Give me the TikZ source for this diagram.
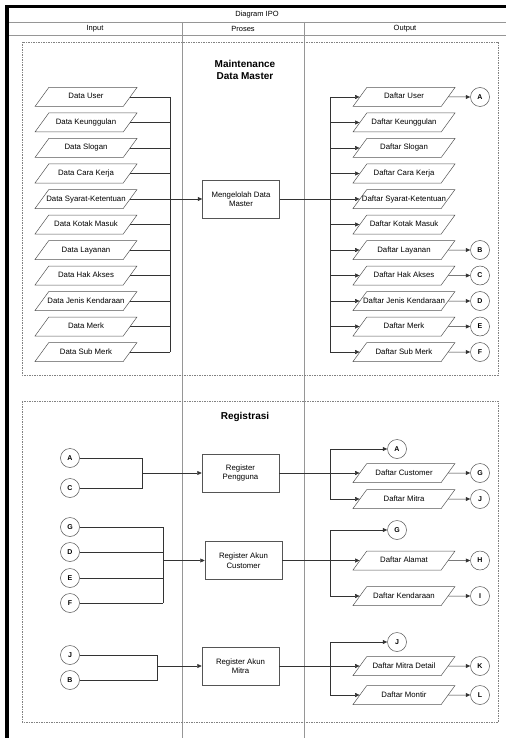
\documentclass[tikz,border=0pt]{standalone}
\usepackage{fontspec}
\setmainfont{Liberation Sans}
\usepackage{tikz}
\usetikzlibrary{arrows.meta,positioning,shapes.geometric,calc}
\usepackage{xcolor}
\definecolor{tablegray}{RGB}{150,150,150}
\definecolor{shapegray}{RGB}{85,85,85}
\definecolor{groupgray}{RGB}{130,130,130}
\newcommand{\dtext}[1]{\makebox[70pt][c]{#1}}

\tikzset{
  databox/.style={trapezium, trapezium left angle=54, trapezium right angle=126,
    trapezium stretches body, draw=shapegray, line width=0.5pt,
    minimum width=102pt, minimum height=19pt, inner xsep=1pt, inner ysep=5.5pt,
    text height=6pt, text depth=2pt,
    font=\fontsize{7.8}{9}\selectfont},
  procbox/.style={rectangle, draw=shapegray, line width=0.5pt, minimum width=77pt,
    minimum height=38pt, align=center, font=\fontsize{7.8}{9.5}\selectfont},
  refnode/.style={circle, draw=shapegray, line width=0.5pt, minimum size=19pt,
    inner sep=0pt, font=\bfseries\fontsize{7}{8}\selectfont},
  link/.style={draw=black!80, line width=0.5pt},
  arr/.style={link, -{Triangle[length=4.5pt,width=4pt]}},
  grouptitle/.style={align=center, font=\bfseries\fontsize{10}{12}\selectfont},
  headtext/.style={font=\fontsize{7.5}{9}\selectfont},
}

\begin{document}
\begin{tikzpicture}[x=1pt, y=-1pt]
  \useasboundingbox (0,0) rectangle (506,738);

  % table frame
  \draw[tablegray, line width=0.6pt] (7,22) -- (506,22);
  \draw[tablegray, line width=0.6pt] (7,35) -- (506,35);
  \draw[tablegray, line width=0.6pt] (182,22) -- (182,738);
  \draw[tablegray, line width=0.6pt] (304,22) -- (304,738);
  \draw[line width=3.8pt] (7,738) -- (7,6.5) -- (506,6.5);
  \node[headtext] (ttlipo) at (257,15) {Diagram IPO};
  \node[headtext] (hdinput) at (95,29) {Input};
  \node[headtext] (hdproses) at (243,29) {Proses};
  \node[headtext] (hdoutput) at (405,29) {Output};

  % groups
  \draw[groupgray, line width=0.5pt, dash pattern=on 1.5pt off 1pt] (22,42) rectangle (498,375);
  \draw[groupgray, line width=0.5pt, dash pattern=on 1.5pt off 1pt] (22,401) rectangle (498,722);
  \node[grouptitle] (ttlmaster) at (245,70) {Maintenance\\Data Master};
  \node[grouptitle] (ttlreg) at (245,417) {Registrasi};

  % ---- Maintenance Data Master ----
  \foreach \lbl [count=\i] in {User, Keunggulan, Slogan, Cara Kerja, Syarat-Ketentuan,
      Kotak Masuk, Layanan, Hak Akses, Jenis Kendaraan, Merk, Sub Merk} {
    \node[databox] (in\i) at (86,{97+25.5*(\i-1)}) {\dtext{Data \lbl}};
    \node[databox] (out\i) at (404,{97+25.5*(\i-1)}) {\dtext{Daftar \lbl}};
  }
  \node[procbox] (kelola) at (241,199) {Mengelolah Data\\Master};
  \coordinate (inbus) at (170,0);
  \coordinate (outbus) at (330,0);
  \foreach \i in {1,...,11} {
    \draw[link] (in\i.east) -- (in\i.east -| inbus);
    \draw[arr] (out\i.west -| outbus) -- (out\i.west);
  }
  \draw[link] (in1.east -| inbus) -- (in11.east -| inbus);
  \draw[arr] (kelola.west -| inbus) -- (kelola.west);
  \draw[link] (kelola.east) -- (kelola.east -| outbus);
  \draw[link] (out1.west -| outbus) -- (out11.west -| outbus);
  \foreach \i/\c in {1/A, 7/B, 8/C, 9/D, 10/E, 11/F} {
    \node[refnode] (m\c) at (480,{97+25.5*(\i-1)}) {\c};
    \draw[arr] (out\i.east) -- (m\c);
  }

  % ---- Registrasi: pengguna ----
  \node[refnode] (rA) at (70,458) {A};
  \node[refnode] (rC) at (70,488) {C};
  \node[procbox] (reguser) at (240.5,473) {Register\\Pengguna};
  \coordinate (joinuser) at (142,0);
  \draw[link] (rA) -- (rA -| joinuser) -- (rC -| joinuser) -- (rC);
  \draw[arr] (reguser.west -| joinuser) -- (reguser.west);

  \node[refnode] (oA) at (397,449) {A};
  \node[databox] (cust) at (404,473) {\dtext{Daftar Customer}};
  \node[databox] (mitra) at (404,499) {\dtext{Daftar Mitra}};
  \node[refnode] (oG) at (480,473) {G};
  \node[refnode] (oJ) at (480,499) {J};
  \draw[link] (reguser.east) -- (reguser.east -| outbus);
  \draw[link] (oA -| outbus) -- (mitra.west -| outbus);
  \draw[arr] (oA -| outbus) -- (oA);
  \draw[arr] (cust.west -| outbus) -- (cust.west);
  \draw[arr] (mitra.west -| outbus) -- (mitra.west);
  \draw[arr] (cust.east) -- (oG);
  \draw[arr] (mitra.east) -- (oJ);

  % ---- Registrasi: akun customer ----
  \node[refnode] (rG) at (70,527) {G};
  \node[refnode] (rD) at (70,552) {D};
  \node[refnode] (rE) at (70,578) {E};
  \node[refnode] (rF) at (70,603) {F};
  \node[procbox] (regcust) at (243.5,560.5) {Register Akun\\Customer};
  \coordinate (joincust) at (163,0);
  \foreach \c in {G,D,E,F}
    \draw[link] (r\c) -- (r\c -| joincust);
  \draw[link] (rG -| joincust) -- (rF -| joincust);
  \draw[arr] (regcust.west -| joincust) -- (regcust.west);

  \node[refnode] (oG2) at (397,530) {G};
  \node[databox] (alamat) at (404,560.5) {\dtext{Daftar Alamat}};
  \node[databox] (kendaraan) at (404,596) {\dtext{Daftar Kendaraan}};
  \node[refnode] (oH) at (480,560.5) {H};
  \node[refnode] (oI) at (480,596) {I};
  \draw[link] (regcust.east) -- (regcust.east -| outbus);
  \draw[link] (oG2 -| outbus) -- (kendaraan.west -| outbus);
  \draw[arr] (oG2 -| outbus) -- (oG2);
  \draw[arr] (alamat.west -| outbus) -- (alamat.west);
  \draw[arr] (kendaraan.west -| outbus) -- (kendaraan.west);
  \draw[arr] (alamat.east) -- (oH);
  \draw[arr] (kendaraan.east) -- (oI);

  % ---- Registrasi: akun mitra ----
  \node[refnode] (rJ) at (70,655) {J};
  \node[refnode] (rB) at (70,680) {B};
  \node[procbox] (regmitra) at (240.5,666) {Register Akun\\Mitra};
  \coordinate (joinmitra) at (157,0);
  \draw[link] (rJ) -- (rJ -| joinmitra) -- (rB -| joinmitra) -- (rB);
  \draw[arr] (regmitra.west -| joinmitra) -- (regmitra.west);

  \node[refnode] (oJ2) at (397,642) {J};
  \node[databox] (mdetail) at (404,666) {\dtext{Daftar Mitra Detail}};
  \node[databox] (montir) at (404,695) {\dtext{Daftar Montir}};
  \node[refnode] (oK) at (480,666) {K};
  \node[refnode] (oL) at (480,695) {L};
  \draw[link] (regmitra.east) -- (regmitra.east -| outbus);
  \draw[link] (oJ2 -| outbus) -- (montir.west -| outbus);
  \draw[arr] (oJ2 -| outbus) -- (oJ2);
  \draw[arr] (mdetail.west -| outbus) -- (mdetail.west);
  \draw[arr] (montir.west -| outbus) -- (montir.west);
  \draw[arr] (mdetail.east) -- (oK);
  \draw[arr] (montir.east) -- (oL);
\end{tikzpicture}
\end{document}
